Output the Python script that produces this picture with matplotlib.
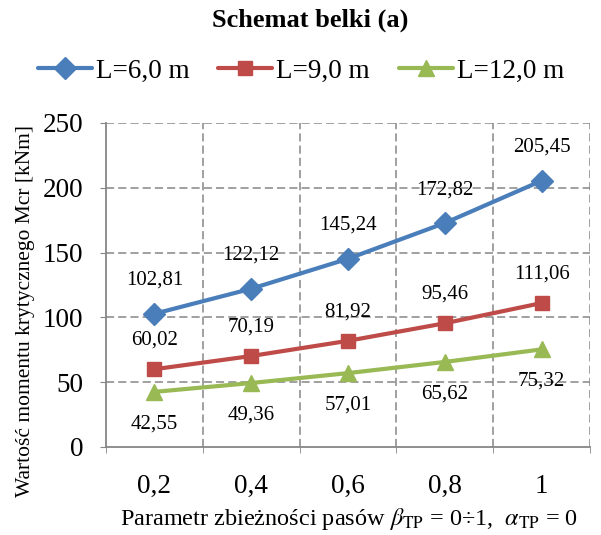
import matplotlib
matplotlib.use("Agg")
import matplotlib.pyplot as plt
from matplotlib.ticker import FixedLocator

plt.rcParams['font.family'] = ['Liberation Serif', 'DejaVu Serif']
plt.rcParams['mathtext.fontset'] = 'stix'

categories = ['0,2', '0,4', '0,6', '0,8', '1']
series_names = ['L=6,0 m', 'L=9,0 m', 'L=12,0 m']
values_L6 = [102.81, 122.12, 145.24, 172.82, 205.45]
values_L9 = [60.02, 70.19, 81.92, 95.46, 111.06]
values_L12 = [42.55, 49.36, 57.01, 65.62, 75.32]
y_ticks = [0, 50, 100, 150, 200, 250]

colors = ['#4A7EBB', '#BE4B48', '#98B954']
markers = ['D', 's', '^']
msizes = [11, 10, 11]
label_offsets = [24, 21, -23]

fig = plt.figure(figsize=(6.01, 5.35), dpi=100)
ax = fig.add_axes([106/601, 1-447/535, (590-106)/601, (447-123)/535])

x = list(range(len(categories)))
all_vals = [values_L6, values_L9, values_L12]
for vals, name, c, m, ms, off in zip(all_vals, series_names, colors, markers, msizes, label_offsets):
    ax.plot(x, vals, color=c, lw=3, marker=m, ms=ms, label=name, solid_capstyle='round')
    for xi, v in zip(x, vals):
        ax.annotate(f"{v:.2f}".replace('.', ','), (xi, v), xytext=(0, off),
                    textcoords='offset points', ha='center', va='center', fontsize=15)

ax.set_xlim(-0.5, len(categories) - 0.5)
ax.set_ylim(0, 250)
ax.set_yticks(y_ticks)
ax.set_xticks(x)
ax.set_xticklabels(categories)
ax.xaxis.set_minor_locator(FixedLocator([i + 0.5 for i in range(-1, len(categories))]))

ax.grid(False)
dash = (0, (5.3, 2.7))
for yv in y_ticks[1:]:
    ax.axhline(yv, color='#868686', lw=1.1, ls=dash, zorder=0)
for xv in [i + 0.5 for i in range(len(categories))]:
    ax.axvline(xv, color='#868686', lw=1.1, ls=dash, zorder=0)

for s in ['top', 'right']:
    ax.spines[s].set_visible(False)
for s in ['left', 'bottom']:
    ax.spines[s].set_color('#868686')
    ax.spines[s].set_linewidth(1.3)

ax.tick_params(axis='y', which='major', length=4, color='#868686', labelsize=19.5, pad=12.5)
ax.tick_params(axis='x', which='major', length=0, labelsize=19.5, pad=19.5)
ax.tick_params(axis='x', which='minor', length=4, color='#868686')

fig.text(26/601, 1 - 311/535, 'Wartość momentu krytycznego Mcr [kNm]', rotation=90,
         ha='center', va='center', fontsize=15.5)
fig.text(349/601, 1 - 519/535,
         r'Parametr zbieżności pasów $\beta_{\rm TP}$ = 0÷1,  $\alpha_{\rm TP}$ = 0',
         ha='center', va='center', fontsize=17.5)
fig.text(310/601, 1 - 20/535, 'Schemat belki (a)', ha='center', va='center',
         fontsize=19, fontweight='bold')

fig.legend(loc='center', bbox_to_anchor=(301/601, 1 - 71/535), ncol=3, frameon=False,
           fontsize=19.5, handlelength=2.0, columnspacing=1.05, handletextpad=0.15,
           borderpad=0, borderaxespad=0)

fig.savefig('out.png', dpi=100)
